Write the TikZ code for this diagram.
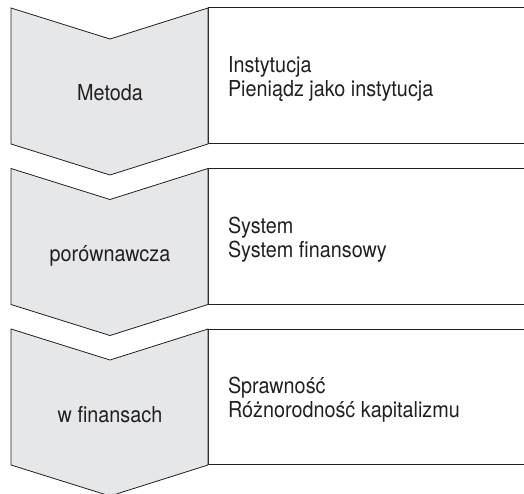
\documentclass[tikz,border=0pt]{standalone}
\usepackage{fontspec}
\setmainfont[FakeStretch=0.9]{TeX Gyre Heros}
\definecolor{chevfill}{HTML}{E6E7E8}
\definecolor{inkc}{HTML}{231F20}
\begin{document}
\begin{tikzpicture}[x=1pt,y=-1pt,
  chev/.style={fill=chevfill,draw=inkc,line width=0.8pt,line join=miter},
  boxline/.style={draw=inkc,line width=1pt},
  lbl/.style={inner sep=0pt,outer sep=0pt,text=inkc,font=\fontsize{22}{24}\selectfont},
  itemtext/.style={lbl,align=left,anchor=base west}]
\useasboundingbox (0,0) rectangle (524,494);
\clip (0,0) rectangle (524,494);
\foreach \r/\n in {0/1,160.5/2,321/3}{
  \draw[boxline] (530,8+\r) -- (208,8+\r) -- (208,143.5+\r) -- (530,143.5+\r);
  \draw[chev] (11,8+\r) -- (110,39+\r) -- (208,8+\r) -- (208,144+\r) -- (110,175+\r) -- (11,144+\r) -- cycle;
}
\node[lbl,anchor=base] (m1) at (110,101) {Metoda};
\node[lbl,anchor=base] (m2) at (110,261.5) {porównawcza};
\node[lbl,anchor=base] (m3) at (110,422) {w finansach};
\node[itemtext] (t1) at (228,96.5) {Instytucja\\Pieniądz jako instytucja};
\node[itemtext] (t2) at (228,257) {System\\System finansowy};
\node[itemtext] (t3) at (228,417.5) {Sprawność\\Różnorodność kapitalizmu};
\end{tikzpicture}
\end{document}
